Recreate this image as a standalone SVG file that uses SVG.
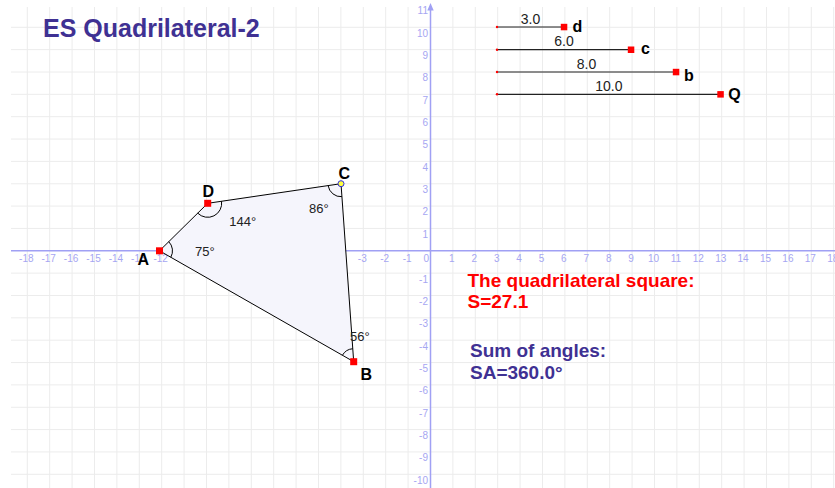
<svg xmlns="http://www.w3.org/2000/svg" width="835" height="488" viewBox="0 0 835 488">
<style>
.grid{stroke:#ececec;stroke-width:1;fill:none}
.axis{stroke:#a0a0f4;stroke-width:1.5;fill:none}
.tick{font-family:"Liberation Sans",Arial,sans-serif;font-size:10px;fill:#a6a6f2}
.tx{text-anchor:middle}
.ty{text-anchor:end}
.edge{stroke:#000;stroke-width:1;fill:none}
.seg{stroke:#222;stroke-width:1.2;fill:none}
.arc{stroke:#000;stroke-width:1;fill:none}
.pt{fill:#ff0000}
.lbl{font-family:"Liberation Sans",Arial,sans-serif;font-size:16px;font-weight:bold;fill:#000}
.ang{font-family:"Liberation Sans",Arial,sans-serif;font-size:13px;fill:#222}
.num{font-family:"Liberation Sans",Arial,sans-serif;font-size:14px;fill:#222;text-anchor:middle}
.red{font-family:"Liberation Sans",Arial,sans-serif;font-size:19px;font-weight:bold;fill:#ff0000}
.pur{font-family:"Liberation Sans",Arial,sans-serif;font-size:19px;font-weight:bold;fill:#3f3193}
</style>
<rect x="0" y="0" width="835" height="488" fill="#ffffff"/>
<g id="grid">
<path class="grid" d="M27.3 7V488M49.7 7V488M72.1 7V488M94.5 7V488M116.9 7V488M139.3 7V488M161.7 7V488M184.1 7V488M206.5 7V488M228.9 7V488M251.3 7V488M273.7 7V488M296.1 7V488M318.5 7V488M340.9 7V488M363.3 7V488M385.7 7V488M408.1 7V488M452.9 7V488M475.3 7V488M497.7 7V488M520.1 7V488M542.5 7V488M564.9 7V488M587.3 7V488M609.7 7V488M632.1 7V488M654.5 7V488M676.9 7V488M699.3 7V488M721.7 7V488M744.1 7V488M766.5 7V488M788.9 7V488M811.3 7V488M833.7 7V488"/>
<path class="grid" d="M11 27.3H835M11 49.65H835M11 72H835M11 94.35H835M11 116.7H835M11 139.05H835M11 161.4H835M11 183.75H835M11 206.1H835M11 228.45H835M11 273.15H835M11 295.5H835M11 317.85H835M11 340.2H835M11 362.55H835M11 384.9H835M11 407.25H835M11 429.6H835M11 451.95H835M11 474.3H835"/>
</g>
<g id="axes">
<path class="axis" d="M11 250.8H835M430.5 488V6"/>
<polygon points="430.5,3 427.3,10.5 433.7,10.5" fill="#a0a0f4"/>
<g class="tick tx">
<text x="26.3" y="261.5">-18</text><text x="48.7" y="261.5">-17</text><text x="71.1" y="261.5">-16</text><text x="93.5" y="261.5">-15</text><text x="115.9" y="261.5">-14</text><text x="138.3" y="261.5">-13</text><text x="160.7" y="261.5">-12</text><text x="183.1" y="261.5">-11</text><text x="205.5" y="261.5">-10</text><text x="227.9" y="261.5">-9</text><text x="250.3" y="261.5">-8</text><text x="272.7" y="261.5">-7</text><text x="295.1" y="261.5">-6</text><text x="317.5" y="261.5">-5</text><text x="339.9" y="261.5">-4</text><text x="362.3" y="261.5">-3</text><text x="384.7" y="261.5">-2</text><text x="407.1" y="261.5">-1</text>
<text x="451.9" y="261.5">1</text><text x="474.3" y="261.5">2</text><text x="496.7" y="261.5">3</text><text x="519.1" y="261.5">4</text><text x="541.5" y="261.5">5</text><text x="563.9" y="261.5">6</text><text x="586.3" y="261.5">7</text><text x="608.7" y="261.5">8</text><text x="631.1" y="261.5">9</text><text x="653.5" y="261.5">10</text><text x="675.9" y="261.5">11</text><text x="698.3" y="261.5">12</text><text x="720.7" y="261.5">13</text><text x="743.1" y="261.5">14</text><text x="765.5" y="261.5">15</text><text x="787.9" y="261.5">16</text><text x="810.3" y="261.5">17</text><text x="832.7" y="261.5">18</text>
</g>
<g class="tick ty">
<text x="429" y="261.5">0</text>
<text x="428" y="14">11</text><text x="428" y="36.6">10</text><text x="428" y="59">9</text><text x="428" y="81.3">8</text><text x="428" y="103.7">7</text><text x="428" y="126">6</text><text x="428" y="148.4">5</text><text x="428" y="170.7">4</text><text x="428" y="193">3</text><text x="428" y="215.4">2</text><text x="428" y="237.8">1</text>
<text x="428" y="282.5">-1</text><text x="428" y="304.8">-2</text><text x="428" y="327.2">-3</text><text x="428" y="349.5">-4</text><text x="428" y="371.9">-5</text><text x="428" y="394.2">-6</text><text x="428" y="416.6">-7</text><text x="428" y="438.9">-8</text><text x="428" y="461.3">-9</text><text x="428" y="483.6">-10</text>
</g>
</g>
<g id="quadrilateral">
<polygon points="159.5,250.8 207.7,203.3 341,183.7 353.7,361.7" fill="#f5f5fc"/>
</g>
<g id="connectors">
<path class="edge" d="M159.5 250.8L207.7 203.3L341 183.7L353.7 361.7Z"/>
<path class="seg" d="M497 27H564M497 49.7H631M497 72H676M497 94.3H720.5"/>
</g>
<g id="angles">
<path class="arc" d="M168.75 241.67A13 13 0 0 1 170.79 257.24"/>
<path class="arc" d="M221.55 201.25A14 14 0 0 1 197.73 213.13"/>
<path class="arc" d="M341.93 196.67A13 13 0 0 1 328.14 185.6"/>
<path class="arc" d="M342.41 355.26A13 13 0 0 1 352.77 348.73"/>
<text class="ang" x="195" y="256">75°</text>
<text class="ang" x="229.3" y="226">144°</text>
<text class="ang" x="309" y="212.7">86°</text>
<text class="ang" x="350" y="340.7">56°</text>
</g>
<g id="A"><rect class="pt" x="156" y="247.3" width="7" height="7"/><text class="lbl" x="137.5" y="265">A</text></g>
<g id="D"><rect class="pt" x="204.2" y="199.8" width="7" height="7"/><text class="lbl" x="202.5" y="196.7">D</text></g>
<g id="C"><circle cx="341" cy="183.7" r="3" fill="#ffff40" stroke="#3030e0" stroke-width="1"/><text class="lbl" x="338.5" y="179">C</text></g>
<g id="B"><rect class="pt" x="350.2" y="358.2" width="7" height="7"/><text class="lbl" x="360.5" y="380">B</text></g>
<g id="seg-d"><circle class="pt" cx="497" cy="27" r="1.2"/><rect class="pt" x="560.8" y="23.8" width="6.5" height="6.5"/><text class="num" x="530.5" y="23.5">3.0</text><text class="lbl" x="572.5" y="32.3">d</text></g>
<g id="seg-c"><circle class="pt" cx="497" cy="49.7" r="1.2"/><rect class="pt" x="627.8" y="46.5" width="6.5" height="6.5"/><text class="num" x="564" y="46.2">6.0</text><text class="lbl" x="641" y="54.3">c</text></g>
<g id="seg-b"><circle class="pt" cx="497" cy="72" r="1.2"/><rect class="pt" x="672.8" y="68.8" width="6.5" height="6.5"/><text class="num" x="586.5" y="68.5">8.0</text><text class="lbl" x="684" y="81">b</text></g>
<g id="seg-Q"><circle class="pt" cx="497" cy="94.3" r="1.2"/><rect class="pt" x="717.3" y="91.1" width="6.5" height="6.5"/><text class="num" x="608.8" y="90.8">10.0</text><text class="lbl" x="728.3" y="100">Q</text></g>
<g id="title"><text x="43" y="36.7" style="font-family:'Liberation Sans',Arial,sans-serif;font-size:25px;font-weight:bold;fill:#3f3193">ES Quadrilateral-2</text></g>
<g id="area-text"><text class="red" x="467.5" y="286.7">The quadrilateral square:</text><text class="red" x="467.5" y="308.3">S=27.1</text></g>
<g id="angle-sum-text"><text class="pur" x="470" y="356.7">Sum of angles:</text><text class="pur" x="470" y="379.3">SA=360.0°</text></g>
</svg>
